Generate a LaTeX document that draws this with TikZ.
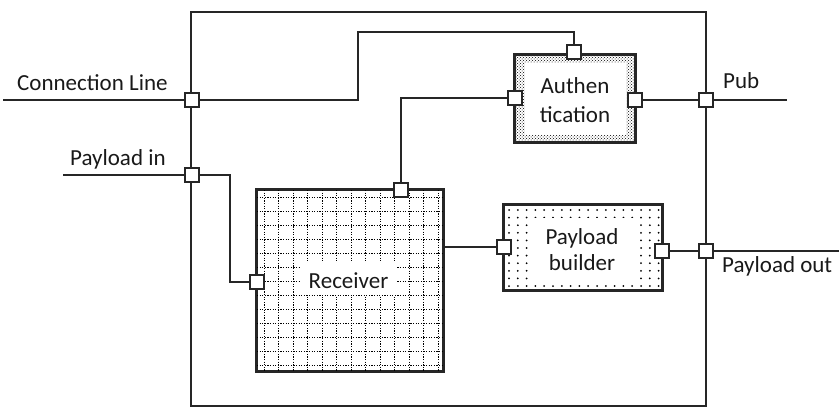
\documentclass[tikz,border=0pt]{standalone}
\usepackage{fontspec}
\setmainfont{Carlito}
\usetikzlibrary{patterns}
\begin{document}
\begin{tikzpicture}[x=1pt,y=-1pt,
  wire/.style={line width=2.2pt, black!85},
  port/.style={draw=black!85, fill=white, line width=1.7pt, minimum size=14.5pt, inner sep=0pt},
  lbl/.style={font=\fontsize{23}{27}\selectfont, inner sep=0pt, text=black!90},
  blk/.style={draw=black!85, line width=2pt, inner sep=0pt}]
\useasboundingbox (0,0) rectangle (839,410);

% outer system box
\node[blk, line width=1.8pt, minimum width=515pt, minimum height=394pt] (sys) at (448.5,209) {};

% blocks
\node[blk, minimum width=120pt, minimum height=87pt, pattern=crosshatch dots, pattern color=black] (auth) at (575,98.5) {};
\fill[white] (525,63) rectangle (626,135);
\draw[blk] (auth.north west) rectangle (auth.south east);

\node[blk, minimum width=186pt, minimum height=181pt] (recv) at (350,280.5) {};
\begin{scope}
  \clip (recv.north west) rectangle (recv.south east);
  \foreach \i in {0,...,12} {
    \draw[black, line width=1pt, dash pattern=on 1.1pt off 1.5pt] (264+\i*14.5,190) -- (264+\i*14.5,371);
    \draw[black, line width=1pt, dash pattern=on 1.1pt off 1.5pt] (257,197+\i*14) -- (443,197+\i*14);
  }
\end{scope}
\draw[blk] (recv.north west) rectangle (recv.south east);
\fill[white] (301,263) rectangle (396,295);
\node[lbl] (recvt) at (348.5,281) {Receiver};

\node[blk, minimum width=158pt, minimum height=85pt] (pb) at (583,247.5) {};
\begin{scope}
  \clip (pb.north west) rectangle (pb.south east);
  \foreach \i in {0,...,17} {
    \foreach \j in {0,...,10} {
      \fill[black] (509+\i*8.8,210+\j*7.6) circle (1pt);
    }
  }
\end{scope}
\draw[blk] (pb.north west) rectangle (pb.south east);
\fill[white] (528,218) rectangle (636,280);

\node[lbl, align=center, font=\fontsize{23}{29}\selectfont] (autht) at (575,100) {Authen\\tication};
\node[lbl, align=center, font=\fontsize{23}{26}\selectfont] (pbt) at (582,250) {Payload\\builder};

% connectors (drawn before ports so ports cover them)
\coordinate (clIn) at (3,100);
\coordinate (piIn) at (63,175);
\coordinate (pubOut) at (787,100);
\coordinate (poOut) at (839,251);
\coordinate (pCLc) at (192,100);
\coordinate (pPIc) at (192,175);
\coordinate (pPubc) at (706,100);
\coordinate (pPOc) at (706,251);

\draw[wire] (clIn) -- (pCLc) -- (358,100) -- (358,32) -| (574,52);
\draw[wire] (515,98) -| (401,190);
\draw[wire] (635,100) -- (pPubc) -- (pubOut);
\draw[wire] (piIn) -- (pPIc) -- (230,175) |- (257,282);
\draw[wire] (443,247) -- (504,247);
\draw[wire] (662,251) -- (pPOc) -- (poOut);

% ports
\node[port] (pCL) at (pCLc) {};
\node[port] (pPI) at (pPIc) {};
\node[port] (pPub) at (pPubc) {};
\node[port] (pPO) at (pPOc) {};
\node[port] (aT) at (574,52) {};
\node[port] (aL) at (515,98) {};
\node[port] (aR) at (635,100) {};
\node[port] (rT) at (401,190) {};
\node[port] (rL) at (257,282) {};
\node[port] (bL) at (504,247) {};
\node[port] (bR) at (662,251) {};

% labels
\node[lbl, anchor=base west] (lCL) at (17,90) {Connection Line};
\node[lbl, anchor=base west] (lPI) at (70,165) {Payload in};
\node[lbl, anchor=base west] (lPub) at (723,88) {Pub};
\node[lbl, anchor=base west] (lPO) at (722,272) {Payload out};
\end{tikzpicture}
\end{document}
